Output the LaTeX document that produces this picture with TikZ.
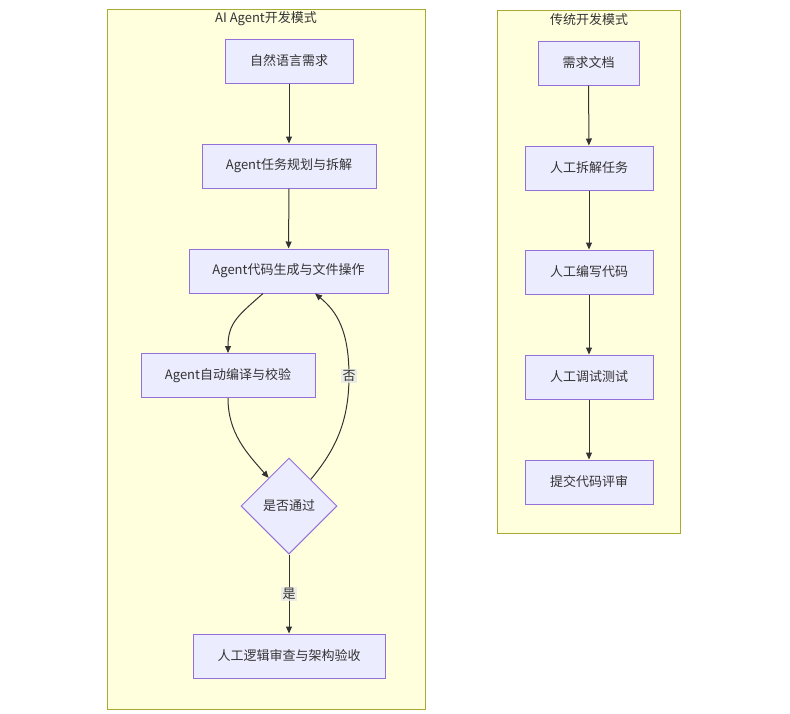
\documentclass[tikz,border=0pt]{standalone}
\usepackage{fontspec}
\setmainfont{Noto Sans CJK SC}
\usetikzlibrary{arrows.meta,shapes.geometric,calc}
\definecolor{nodefill}{HTML}{ECECFF}
\definecolor{nodeline}{HTML}{9370DB}
\definecolor{clfill}{HTML}{FFFFDE}
\definecolor{clline}{HTML}{AAAA33}
\definecolor{edgec}{HTML}{333333}
\definecolor{txt}{HTML}{333333}
\definecolor{lblbg}{HTML}{E8E8E8}
\tikzset{
  cluster/.style={draw=clline, fill=clfill, line width=1pt},
  cltitle/.style={text=txt, font=\fontsize{13}{15}\selectfont, inner sep=0},
  box/.style={draw=nodeline, fill=nodefill, line width=1pt, text=txt,
    font=\fontsize{13}{15}\selectfont, minimum height=44pt, inner sep=0},
  decision/.style={diamond, draw=nodeline, fill=nodefill, line width=1pt, text=txt,
    font=\fontsize{13}{15}\selectfont, minimum width=96pt, minimum height=96pt, inner sep=0},
  edge/.style={draw=edgec, line width=1pt, -{Triangle[length=7pt,width=6pt]}},
  elabel/.style={fill=lblbg, fill opacity=0.8, text opacity=1, text=txt,
    font=\fontsize{13}{15}\selectfont, inner sep=1.5pt}
}
\begin{document}
\begin{tikzpicture}[x=1pt,y=-1pt]
\useasboundingbox (0,0) rectangle (790,713);
% clusters
\draw[cluster] (107,9) rectangle (425,709);
\node[cltitle] (t1) at (266,19) {AI Agent开发模式};
\draw[cluster] (497,10) rectangle (680,533);
\node[cltitle] (t2) at (589,20) {传统开发模式};

% left nodes
\node[box, minimum width=128pt] (a1) at (289,61) {自然语言需求};
\node[box, minimum width=174pt] (a2) at (289,166) {Agent任务规划与拆解};
\node[box, minimum width=199pt] (a3) at (288.5,271) {Agent代码生成与文件操作};
\node[box, minimum width=174pt] (a4) at (228,375.5) {Agent自动编译与校验};
\node[decision] (d) at (289,506) {是否通过};
\node[box, minimum width=192pt] (a5) at (289,656) {人工逻辑审查与架构验收};

% right nodes
\node[box, minimum width=101pt] (b1) at (588.5,63) {需求文档};
\node[box, minimum width=128pt] (b2) at (589,168) {人工拆解任务};
\node[box, minimum width=128pt] (b3) at (589,272) {人工编写代码};
\node[box, minimum width=128pt] (b4) at (589,377) {人工调试测试};
\node[box, minimum width=128pt] (b5) at (589,482) {提交代码评审};

% left edges
\draw[edge] (a1) -- (a2);
\draw[edge] (a2) -- (a3);
\coordinate (g1) at ($(a3.south)+(-25.5,0)$);
\coordinate (g2) at ($(a3.south)+(26.5,0)$);
\draw[edge] (g1) .. controls ($(g1)+(-25,22)$) and ($(a4.north)+(0,-30)$) .. (a4.north);
\coordinate (dl) at ($(d.north west)!0.45!(d.west)$);
\coordinate (dr) at ($(d.north east)!0.5!(d.east)$);
\coordinate (dl) at ($(d.west)!0.58!(d.north)$);
\coordinate (dr) at ($(d.east)!0.55!(d.north)$);
\draw[edge] (a4.south) .. controls ($(a4.south)+(0,35)$) and ($(dl)+(-22,-25)$) .. (dl);
\coordinate (nlab) at (349,376);
\draw[edge] (dr) .. controls ($(dr)+(25,-30)$) and ($(nlab)+(0,45)$) .. (nlab)
  .. controls ($(nlab)+(0,-45)$) and ($(g2)+(22,18)$) .. (g2);
\node[elabel] (no) at (nlab) {否};
\draw[edge] (d) -- (a5);
\node[elabel] (yes) at (289,594) {是};

% right edges
\draw[edge] (b1) -- (b2);
\draw[edge] (b2) -- (b3);
\draw[edge] (b3) -- (b4);
\draw[edge] (b4) -- (b5);
\end{tikzpicture}
\end{document}
